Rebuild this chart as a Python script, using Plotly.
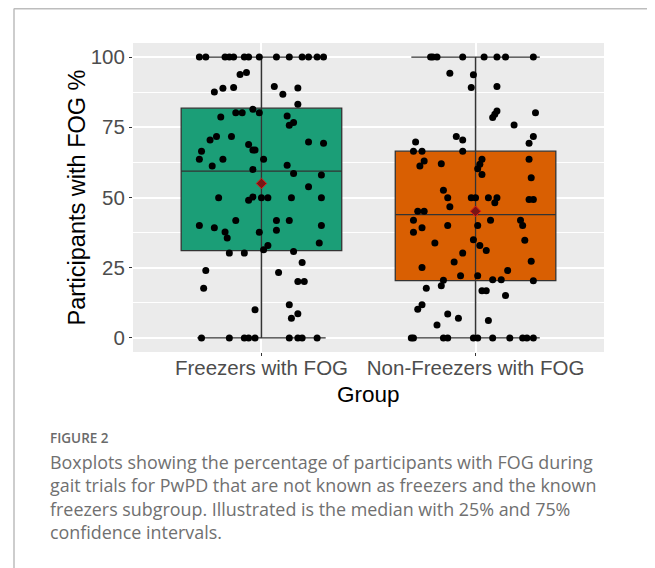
import plotly.graph_objects as go

# ---------------- data ----------------
groups = ["Freezers with FOG", "Non-Freezers with FOG"]
box_colors = ["#1B9E77", "#D95F02"]
q1 = [31.1, 20.4]
median = [59.4, 43.9]
q3 = [81.8, 66.5]
lower_fence = [0, 0]
upper_fence = [100, 100]
mean = [55.0, 45.1]

freezers_y = [100] * 14 + [
    93.8, 94.5, 89.2, 88.9, 87.6, 89.5, 86.8, 89.0, 83.2, 81.4, 80.2, 80.2, 80.2,
    78.7, 79.0, 76.7, 75.7, 71.7, 70.5, 71.7, 69.8, 69.3, 68.9, 66.9, 66.9, 66.5,
    63.6, 63.6, 63.6, 61.2, 61.5, 60.0, 58.5, 58.0, 53.8, 49.9, 49.0, 50.2, 49.9,
    49.9, 49.9, 49.9, 41.8, 41.8, 41.8, 40.0, 39.2, 40.0, 37.7, 38.3, 37.6, 35.6,
    33.8, 32.9, 31.4, 30.2, 30.2, 30.8, 26.9, 24.0, 23.3, 20.1, 20.1, 17.7, 11.8,
    10.0, 8.6, 7.0] + [0] * 9
freezers_jitter = [
    -0.29, -0.26, -0.17, -0.15, -0.13, -0.08, -0.06, -0.01, 0.07, 0.13, 0.19, 0.22, 0.26, 0.29,
    -0.10, -0.07, -0.13, -0.18, -0.22, 0.06, 0.10, 0.17, 0.17, -0.04, -0.01, -0.12, -0.09,
    -0.19, 0.12, 0.15, 0.13, -0.21, -0.24, -0.14, 0.22, 0.29, -0.06, -0.04, -0.03, -0.28,
    -0.29, -0.18, 0.01, -0.23, 0.12, -0.04, 0.15, 0.28, 0.22, -0.20, -0.06, -0.04, 0.00,
    0.03, 0.14, 0.28, -0.12, 0.07, 0.13, -0.29, -0.22, 0.28, -0.17, 0.07, -0.01, -0.16,
    0.27, 0.03, 0.01, -0.15, -0.08, 0.15, 0.19, -0.26, 0.08, 0.17, 0.20, -0.27, 0.13,
    -0.03, 0.17, 0.14,
    -0.28, -0.15, -0.08, -0.06, -0.03, 0.13, 0.17, 0.19, 0.26]

nonfreezers_y = [100] * 8 + [
    94.2, 93.7, 89.2, 89.5, 80.8, 79.6, 78.5, 80.2, 75.8, 71.7, 70.5, 71.7, 69.3,
    69.8, 66.5, 66.5, 66.5, 63.6, 63.0, 61.2, 62.0, 63.6, 61.8, 60.2, 58.2, 57.0,
    52.6, 49.9, 49.9, 49.9, 49.9, 49.9, 48.1, 46.7, 49.3, 49.3, 45.1, 45.1, 41.9,
    41.9, 41.9, 40.0, 40.0, 40.0, 39.2, 37.6, 35.0, 34.8, 33.8, 32.9, 31.1, 30.2,
    27.0, 27.3, 25.1, 24.0, 22.1, 22.1, 20.7, 20.7, 20.4, 20.5, 18.6, 17.7, 16.8,
    16.8, 15.1, 11.8, 10.2, 8.5, 7.0, 6.2, 4.6] + [0] * 11
nonfreezers_jitter = [
    -0.21, -0.20, -0.18, -0.06, 0.04, 0.10, 0.14, 0.27,
    -0.12, -0.01, -0.02, 0.10, 0.10, 0.09, 0.08, 0.28, 0.18, -0.09, -0.06, 0.27, 0.25,
    -0.28, -0.29, -0.25, -0.06, 0.03, -0.24, -0.26, -0.16, 0.25, 0.02, 0.01, 0.03, 0.26,
    -0.15, -0.13, -0.02, 0.00, 0.06, 0.10, 0.09, -0.12, 0.25, 0.27, -0.27, -0.24, -0.29,
    0.07, 0.21, -0.13, 0.01, 0.22, -0.25, -0.29, -0.01, 0.23, -0.19, 0.02, 0.05, -0.06,
    -0.10, 0.26, -0.25, 0.15, -0.07, 0.01, 0.08, 0.12, 0.27, -0.15, -0.16, -0.23, 0.03,
    0.05, 0.14, -0.25, -0.27, -0.13, -0.08, 0.06, -0.18,
    -0.30, -0.29, -0.15, -0.13, -0.01, 0.01, 0.08, 0.16, 0.22, 0.24, 0.27]

caption_label = "FIGURE 2"
caption_lines = [
    "Boxplots showing the percentage of participants with FOG during",
    "gait trials for PwPD that are not known as freezers and the known",
    "freezers subgroup. Illustrated is the median with 25% and 75%",
    "confidence intervals.",
]
y_ticks = [0, 25, 50, 75, 100]

# ---------------- figure ----------------
OFF = 8  # default page body margin
W, H = 655 - OFF, 568 - OFF
PL, PR, PT, PB = 133 - OFF, 604 - OFF, 43 - OFF, 352 - OFF  # panel pixel box
pw, ph = PR - PL, PB - PT

def px(xp):  # page pixel -> paper x
    return (xp - OFF - PL) / pw

def py(yp):  # page pixel -> paper y
    return (PB - (yp - OFF)) / ph

fig = go.Figure()
positions = [1, 2]
points = [(freezers_y, freezers_jitter), (nonfreezers_y, nonfreezers_jitter)]
LINE = "#333333"

for i, g in enumerate(groups):
    c = positions[i]
    fig.add_trace(go.Box(
        x=[c], q1=[q1[i]], median=[median[i]], q3=[q3[i]],
        lowerfence=[lower_fence[i]], upperfence=[upper_fence[i]],
        width=0.75, whiskerwidth=0.8, fillcolor=box_colors[i],
        line=dict(color=LINE, width=1.3), boxpoints=False, hoverinfo="skip",
        showlegend=False,
    ))
    fig.add_trace(go.Scatter(
        x=[c, c], y=[lower_fence[i], upper_fence[i]], mode="lines",
        line=dict(color=LINE, width=1.3), showlegend=False, hoverinfo="skip",
    ))

for i, g in enumerate(groups):
    c = positions[i]
    ys, js = points[i]
    fig.add_trace(go.Scatter(
        x=[c + j for j in js], y=ys, mode="markers",
        marker=dict(color="black", size=7, line=dict(width=0)),
        showlegend=False,
    ))
    fig.add_trace(go.Scatter(
        x=[c], y=[mean[i]], mode="markers",
        marker=dict(symbol="diamond", size=8, color="#7A1515",
                    line=dict(color="#E01818", width=1)),
        showlegend=False,
    ))

tick_font = dict(family="Liberation Sans, Arial, sans-serif", size=20.5, color="#4D4D4D")
fig.update_xaxes(
    range=[0.4, 2.6], tickvals=positions, ticktext=groups, tickfont=tick_font,
    showgrid=True, gridcolor="white", gridwidth=1.6, zeroline=False,
    ticks="outside", ticklen=3, tickcolor=LINE, tickwidth=1.2, showline=False,
    ticklabelstandoff=-6,
)
fig.update_yaxes(
    range=[-5, 105], tickvals=y_ticks, tickfont=tick_font,
    showgrid=True, gridcolor="white", gridwidth=1.6, zeroline=False,
    ticks="outside", ticklen=3, tickcolor=LINE, tickwidth=1.2, showline=False,
    minor=dict(dtick=12.5, tick0=0, showgrid=True, gridcolor="white", gridwidth=0.8, ticks=""),
)

title_font = dict(family="Liberation Sans, Arial, sans-serif", size=23.5, color="black")
cap_font = dict(family="Open Sans, Lato, sans-serif", size=17.9, color="#707070", weight=400)
annotations = [
    dict(text="Participants with FOG %", x=px(76), y=py(197.5), xref="paper", yref="paper",
         textangle=-90, showarrow=False, font=title_font, xanchor="center", yanchor="middle"),
    dict(text="Group", x=px(368.5), y=py(394), xref="paper", yref="paper",
         showarrow=False, font=dict(title_font, size=22.5), xanchor="center", yanchor="middle"),
    dict(text=caption_label, x=px(48), y=py(438), xref="paper", yref="paper",
         showarrow=False, xanchor="left", yanchor="middle",
         font=dict(family="Open Sans, sans-serif", size=13.5, color="#6A6A6A", weight=600)),
]
for k, line in enumerate(caption_lines):
    annotations.append(dict(text=line, x=px(48), y=py(462 + 23.4 * k), xref="paper", yref="paper",
                            showarrow=False, xanchor="left", yanchor="middle", font=cap_font))

shapes = [
    dict(type="line", xref="paper", yref="paper", x0=px(14), x1=px(14), y0=py(8.5), y1=py(580),
         line=dict(color="#BDBDBD", width=1.5)),
    dict(type="line", xref="paper", yref="paper", x0=px(14), x1=px(670), y0=py(8.8), y1=py(8.8),
         line=dict(color="#BDBDBD", width=1.5)),
]

fig.update_layout(
    width=W, height=H, autosize=False,
    margin=dict(l=PL, r=W - PR, t=PT, b=H - PB, pad=0),
    plot_bgcolor="#EBEBEB", paper_bgcolor="white",
    annotations=annotations, shapes=shapes, showlegend=False,
)

fig.write_html("out.html")
